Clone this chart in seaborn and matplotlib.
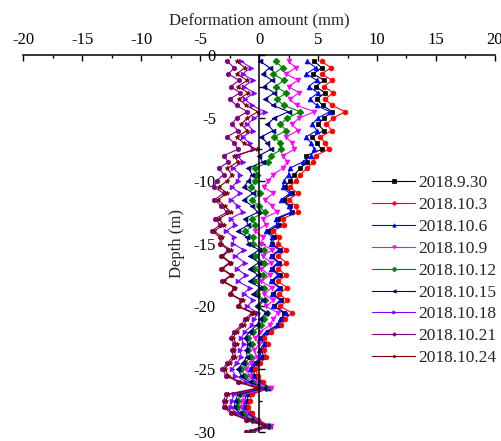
import matplotlib
matplotlib.use("Agg")
import matplotlib.pyplot as plt
import seaborn as sns
from matplotlib.ticker import MultipleLocator

# depth of each measuring point (m)
depth = [-0.5, -1.0, -1.5, -2.0, -2.5, -3.0, -3.5, -4.0, -4.5, -5.0,
         -5.5, -6.0, -6.5, -7.0, -7.5, -8.0, -8.5, -9.0, -9.5, -10.0,
         -10.5, -11.0, -11.5, -12.0, -12.5, -13.0, -13.5, -14.0, -14.5, -15.0,
         -15.5, -16.0, -16.5, -17.0, -17.5, -18.0, -18.5, -19.0, -19.5, -20.0,
         -20.5, -21.0, -21.5, -22.0, -22.5, -23.0, -23.5, -24.0, -24.5, -25.0,
         -25.5, -26.0, -26.5, -27.0, -27.5, -28.0, -28.5, -29.0, -29.5, -30.0]

# deformation amount (mm) per survey date
d0930 = [4.7, 5.3, 4.6, 5.5, 4.8, 5.6, 4.9, 5.4, 6.2, 5.5, 5.0, 5.5, 4.5, 4.9, 5.3, 4.0, 4.1, 3.5, 3.0, 2.6,
         2.2, 2.8, 2.1, 2.6, 2.8, 1.6, 1.7, 0.8, 1.3, 1.1, 1.8, 1.1, 1.7, 1.1, 1.8, 1.1, 1.8, 1.2, 1.9, 1.3, 2.1,
         2.0, 1.6, 0.8, 0.2, 0.6, 0.2, 0.4, -0.2, -0.6, -0.3, 0.1, 0.8, -0.9, -1.0, -1.1, -0.8, -0.2, 0.9, -0.5]
d1003 = [5.3, 6.1, 5.3, 6.2, 5.5, 6.3, 5.6, 6.2, 7.3, 6.3, 5.7, 6.2, 5.2, 5.6, 5.9, 4.8, 4.6, 4.1, 3.5, 3.1,
         2.6, 3.3, 2.5, 3.1, 3.3, 2.0, 2.1, 1.2, 1.7, 1.6, 2.3, 1.6, 2.3, 1.6, 2.3, 1.6, 2.4, 1.7, 2.4, 1.8, 2.8,
         2.2, 1.9, 1.0, 0.4, 0.8, 0.4, 0.6, 0.1, -0.3, -0.1, 0.3, 0.9, -0.6, -0.8, -0.9, -0.6, -0.1, 0.9, -0.5]
d1006 = [4.1, 4.8, 4.0, 4.9, 4.2, 5.0, 4.3, 4.9, 6.0, 5.0, 4.5, 4.9, 4.0, 4.4, 4.7, 4.4, 3.7, 2.6, 2.5, 2.1,
         2.0, 2.6, 1.9, 2.5, 2.7, 1.4, 1.5, 0.6, 1.1, 1.0, 1.7, 1.0, 1.6, 1.0, 1.6, 1.0, 1.7, 1.1, 1.8, 1.2, 2.3,
         1.8, 1.5, 0.6, 0.1, 0.4, 0.0, 0.2, -0.4, -0.8, -0.5, 0.0, 0.8, -1.1, -1.2, -1.3, -0.9, -0.3, 0.9, -0.6]
d1009 = [2.5, 3.1, 2.3, 3.3, 2.5, 3.4, 2.6, 3.2, 4.7, 3.4, 2.8, 3.3, 2.3, 2.8, 3.0, 2.0, 2.4, 2.0, 1.2, 0.8,
         0.4, 1.2, 0.5, 1.1, 1.5, 0.3, 0.6, -0.3, 0.3, 0.2, 1.1, 0.3, 1.0, 0.2, 0.9, 0.2, 1.1, 0.4, 1.2, 0.6, 1.6,
         1.2, 0.9, 0.1, -0.3, 0.0, -0.4, -0.2, -0.7, -1.1, -0.8, -0.3, 1.0, -1.3, -1.4, -1.5, -1.1, -0.4, 1.0, -0.7]
d1012 = [1.4, 2.0, 1.2, 2.1, 1.4, 2.3, 1.5, 2.1, 3.5, 2.4, 1.8, 2.3, 1.3, 1.8, 1.9, 1.0, 0.8, -0.3, -0.2, -0.3,
         -0.7, 0.1, -0.6, 0.0, 0.5, -0.6, -0.3, -1.2, -0.5, -0.5, 0.4, -0.3, 0.4, -0.4, 0.3, -0.4, 0.4, -0.2, 0.5, -0.1, 0.7,
         0.4, 0.2, -0.5, -0.9, -0.6, -0.9, -0.7, -1.2, -1.5, -1.2, -0.6, 0.6, -1.6, -1.8, -1.9, -1.4, -0.6, 0.8, -0.8]
d1015 = [0.1, 0.9, 0.3, 1.1, 0.4, 1.3, 0.5, 1.2, 2.5, 1.3, 0.7, 1.2, 0.2, 0.7, 1.0, 0.0, 0.3, -0.9, -0.6, -0.9,
         -1.3, -0.5, -1.3, -0.6, -0.1, -1.2, -0.9, -1.8, -1.0, -0.9, 0.0, -0.8, 0.0, -0.8, -0.1, -0.8, 0.1, -0.5, 0.3, -0.2, 0.6,
         0.1, -0.2, -0.8, -1.2, -0.9, -1.1, -1.0, -1.4, -1.8, -1.5, -0.8, 0.4, -1.8, -2.0, -2.1, -1.6, -0.7, 0.7, -0.9]
d1018 = [-1.5, -0.7, -1.4, -0.5, -1.3, -0.4, -1.2, -0.6, 0.5, -0.4, -1.0, -0.5, -1.4, -0.8, -0.5, -1.8, -1.4, -2.2, -1.6, -1.8,
         -2.3, -1.6, -2.4, -1.8, -1.4, -2.4, -2.0, -2.8, -2.1, -2.2, -1.3, -2.0, -1.2, -1.9, -1.1, -1.8, -0.8, -1.3, -0.5, -1.0, -0.1,
         -0.4, -0.6, -1.2, -1.5, -1.3, -1.6, -1.5, -1.9, -2.3, -2.0, -1.1, 0.2, -2.1, -2.3, -2.4, -1.9, -0.9, 0.6, -1.0]
d1021 = [-2.7, -2.1, -2.6, -1.7, -2.4, -1.6, -2.5, -1.9, -1.0, -1.9, -2.3, -1.8, -2.7, -2.1, -1.8, -3.0, -2.6, -3.4, -3.0, -3.6,
         -3.8, -3.0, -3.8, -3.2, -2.7, -3.7, -3.3, -4.0, -3.3, -3.3, -2.6, -3.2, -2.5, -3.2, -2.4, -3.1, -2.1, -2.5, -1.5, -1.8, -0.6,
         -1.2, -1.5, -2.1, -2.4, -2.1, -2.3, -2.2, -2.7, -3.1, -2.8, -1.8, -0.2, -2.8, -3.0, -3.0, -2.4, -1.1, 0.4, -1.1]
d1024 = [-1.9, -1.2, -1.9, -1.0, -1.8, -0.9, -1.7, -1.1, -0.1, -1.0, -1.5, -1.0, -1.9, -1.3, -0.2, -2.1, -1.8, -2.7, -2.3, -2.7,
         -3.4, -2.7, -3.5, -2.9, -2.4, -3.4, -3.0, -3.8, -3.1, -3.2, -2.4, -3.1, -2.4, -3.1, -2.3, -3.0, -2.0, -2.4, -1.4, -1.7, -0.4,
         -1.0, -1.3, -1.9, -2.2, -1.9, -2.1, -2.0, -2.5, -2.9, -2.6, -1.6, 0.0, -2.6, -2.8, -2.8, -2.2, -1.0, 0.5, -1.0]

dates = ["2018.9.30", "2018.10.3", "2018.10.6", "2018.10.9", "2018.10.12",
         "2018.10.15", "2018.10.18", "2018.10.21", "2018.10.24"]
series = [d0930, d1003, d1006, d1009, d1012, d1015, d1018, d1021, d1024]
colors = ["#000000", "#ff0000", "#0000ff", "#ff00ff", "#008000",
          "#000080", "#8000ff", "#800080", "#800000"]
markers = ["s", "o", "^", "v", "D", "<", ">", "h", "*"]

sns.set_style("ticks")
plt.rcParams["font.family"] = ["Liberation Serif", "DejaVu Serif"]
plt.rcParams["axes.unicode_minus"] = False

fig = plt.figure(figsize=(5.02, 4.41), dpi=100)
ax = fig.add_axes([0.046, 0.02, 0.940, 0.855])

for name, vals, c, m in zip(dates, series, colors, markers):
    sns.lineplot(x=vals, y=depth, sort=False, orient="y", estimator=None, ax=ax,
                 color=c, marker=m, markersize=3.5, markeredgecolor=c,
                 markeredgewidth=0.5, linewidth=0.8, label=name)

ax.set_xlim(-20, 20)
ax.set_ylim(-30, 0)

# x axis on top, y axis through zero
ax.xaxis.tick_top()
ax.xaxis.set_label_position("top")
ax.spines["left"].set_position(("data", 0))
ax.spines["right"].set_visible(False)
ax.spines["bottom"].set_visible(False)
for s in ["left", "top"]:
    ax.spines[s].set_linewidth(1.1)
    ax.spines[s].set_color("black")

ax.set_xticks(range(-20, 21, 5))
ax.set_yticks(range(-30, 1, 5))
ax.xaxis.set_minor_locator(MultipleLocator(2.5))
ax.yaxis.set_minor_locator(MultipleLocator(2.5))
ax.tick_params(axis="x", which="both", direction="in", top=True, bottom=False,
               labelsize=12, pad=5, colors="black")
ax.tick_params(axis="y", which="both", direction="in", left=True, right=False,
               labelsize=12, pad=31, colors="black")
ax.tick_params(which="major", length=4.5, width=1.0)
ax.tick_params(which="minor", length=2.3, width=1.0)

ax.set_xlabel("Deformation amount (mm)", fontsize=12, labelpad=5)
ax.set_ylabel("Depth (m)", fontsize=12, labelpad=6)

handles, labels = ax.get_legend_handles_labels()
ax.legend(handles, labels, loc="upper left", bbox_to_anchor=(0.739, 0.682),
          frameon=False, borderpad=0, borderaxespad=0, handlelength=2.5,
          handletextpad=0.15, labelspacing=0.33, fontsize=12.5, markerscale=0.7)

fig.savefig("out.png", dpi=100)
